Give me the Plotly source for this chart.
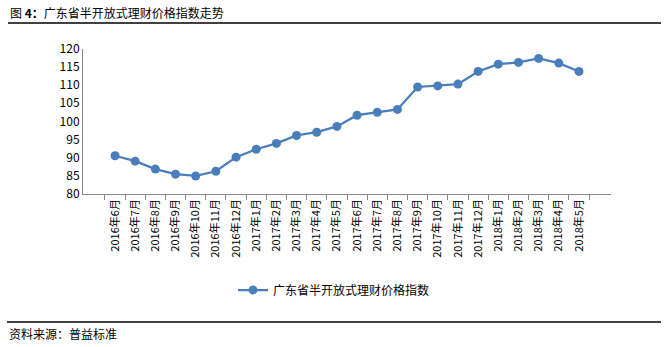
import plotly.graph_objects as go

categories = ["2016年6月", "2016年7月", "2016年8月", "2016年9月", "2016年10月", "2016年11月",
              "2016年12月", "2017年1月", "2017年2月", "2017年3月", "2017年4月", "2017年5月",
              "2017年6月", "2017年7月", "2017年8月", "2017年9月", "2017年10月", "2017年11月",
              "2017年12月", "2018年1月", "2018年2月", "2018年3月", "2018年4月", "2018年5月"]
values = [90.5, 89.0, 86.8, 85.4, 84.9, 86.2, 90.1, 92.3, 93.9, 96.1, 97.0, 98.6,
          101.7, 102.5, 103.3, 109.5, 109.8, 110.3, 113.8, 115.8, 116.3, 117.4, 116.1, 113.8]
series_name = "广东省半开放式理财价格指数"
y_ticks = [80, 85, 90, 95, 100, 105, 110, 115, 120]

W, H = 668, 347
FONT = "Noto Sans CJK SC, Noto Sans, sans-serif"
BLUE = "#4a7ebb"

fig = go.Figure()
fig.add_trace(go.Scatter(
    x=categories, y=values, name=series_name, mode="lines+markers",
    line=dict(color=BLUE, width=2.25),
    marker=dict(color=BLUE, size=9),
))

fig.update_layout(
    width=W, height=H,
    margin=dict(l=0, r=0, t=0, b=0, autoexpand=False),
    paper_bgcolor="white", plot_bgcolor="white",
    font=dict(family=FONT, color="black", size=12),
    showlegend=True,
    legend=dict(orientation="h", x=0.5, xanchor="center", y=(H - 290) / H, yanchor="middle",
                font=dict(size=12, family=FONT), bgcolor="rgba(0,0,0,0)"),
    xaxis=dict(domain=[83 / W, 611 / W], type="category", tickangle=-90, automargin=False,
               showline=True, linecolor="#888888", linewidth=1,
               ticks="outside", tickson="boundaries", ticklen=5, tickcolor="#888888",
               tickfont=dict(size=11, family=FONT), showgrid=False, zeroline=False),
    yaxis=dict(domain=[(H - 193.7) / H, (H - 49) / H], range=[80, 120], automargin=False,
               tickvals=y_ticks, showline=True, linecolor="#888888", linewidth=1,
               ticks="", showgrid=False, zeroline=False,
               tickfont=dict(size=12, family=FONT)),
)

fig.add_shape(type="line", xref="paper", yref="paper", x0=8 / W, x1=661 / W,
              y0=1 - 23 / H, y1=1 - 23 / H, line=dict(color="black", width=1.5))
fig.add_shape(type="line", xref="paper", yref="paper", x0=7 / W, x1=661 / W,
              y0=1 - 322 / H, y1=1 - 322 / H, line=dict(color="black", width=1.5))

fig.add_annotation(text="图 <b>4：</b>广东省半开放式理财价格指数走势",
                   xref="paper", yref="paper", x=8 / W, y=1 - 13 / H,
                   xanchor="left", yanchor="middle", showarrow=False,
                   font=dict(size=12, family=FONT, color="black"))
fig.add_annotation(text="资料来源：普益标准",
                   xref="paper", yref="paper", x=7 / W, y=1 - 333 / H,
                   xanchor="left", yanchor="middle", showarrow=False,
                   font=dict(size=12, family=FONT, color="black"))

fig.write_html("out.html")
